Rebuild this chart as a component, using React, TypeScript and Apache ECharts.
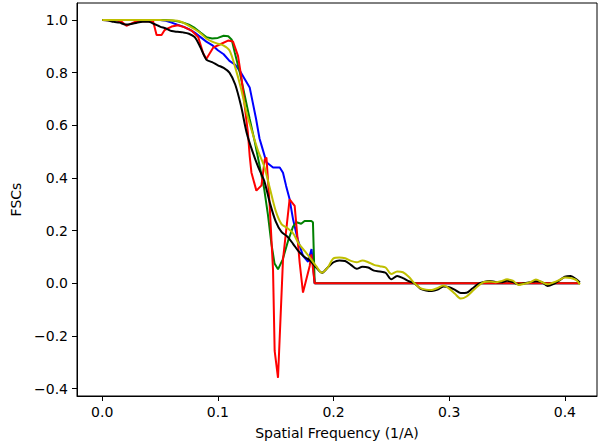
import React, { useEffect, useRef } from "react";
import * as echarts from "echarts";

// Shared frequency grid for the black and yellow curves (1/A)
const freq = [
  0, 0.005, 0.01, 0.015, 0.02, 0.025, 0.03, 0.035, 0.04, 0.045,
  0.05, 0.055, 0.06, 0.065, 0.07, 0.075, 0.08, 0.085, 0.09, 0.095,
  0.1, 0.105, 0.11, 0.115, 0.12, 0.125, 0.13, 0.135, 0.14, 0.145,
  0.15, 0.155, 0.16, 0.165, 0.17, 0.175, 0.18, 0.185, 0.19, 0.195,
  0.2, 0.205, 0.21, 0.215, 0.22, 0.225, 0.23, 0.235, 0.24, 0.245,
  0.25, 0.255, 0.26, 0.265, 0.27, 0.275, 0.28, 0.285, 0.29, 0.295,
  0.3, 0.305, 0.31, 0.315, 0.32, 0.325, 0.33, 0.335, 0.34, 0.345,
  0.35, 0.355, 0.36, 0.365, 0.37, 0.375, 0.38, 0.385, 0.39, 0.395,
  0.4, 0.405, 0.41, 0.413,
];

const blackFsc = [
  1.0, 0.998, 0.993, 0.99, 0.983, 0.985, 0.99, 0.993, 0.993, 0.985,
  0.975, 0.968, 0.958, 0.955, 0.953, 0.948, 0.935, 0.895, 0.85, 0.84,
  0.828, 0.818, 0.8, 0.755, 0.674, 0.57, 0.5, 0.44, 0.39, 0.305,
  0.235, 0.195, 0.178, 0.15, 0.12, 0.1, 0.085, 0.06, 0.04, 0.06,
  0.08, 0.087, 0.085, 0.07, 0.055, 0.063, 0.06, 0.048, 0.045, 0.04,
  0.015, 0.028, 0.02, 0.008, 0.0, -0.02, -0.027, -0.029, -0.024, -0.012,
  -0.015, -0.025, -0.037, -0.036, -0.02, -0.003, 0.005, 0.009, 0.005, 0.004,
  0.01, 0.005, -0.004, 0.0, 0.004, 0.008, 0.005, -0.01, -0.003, 0.01,
  0.025, 0.028, 0.015, 0.003,
];

const yellowFsc = [
  1.0, 1.0, 1.0, 1.0, 1.0, 1.0, 1.0, 1.0, 1.0, 1.0,
  1.0, 0.999, 0.999, 0.997, 0.99, 0.978, 0.965, 0.95, 0.93, 0.918,
  0.91, 0.903, 0.885, 0.82, 0.74, 0.645, 0.57, 0.5, 0.445, 0.36,
  0.275, 0.225, 0.21, 0.19, 0.15, 0.123, 0.095, 0.065, 0.04, 0.06,
  0.095, 0.098, 0.095, 0.085, 0.08, 0.087, 0.08, 0.07, 0.065, 0.06,
  0.035, 0.045, 0.042, 0.025, 0.0, -0.018, -0.024, -0.025, -0.018, -0.008,
  -0.02, -0.04, -0.058, -0.05, -0.03, -0.01, 0.005, 0.007, 0.004, 0.008,
  0.015, 0.01, -0.006, -0.002, 0.004, 0.014, 0.005, -0.004, 0.003, 0.012,
  0.022, 0.02, 0.012, -0.004,
];

const blueFreq = [
  0, 0.05, 0.055, 0.06, 0.065, 0.07, 0.075, 0.08, 0.085, 0.09,
  0.095, 0.1, 0.105, 0.11, 0.115, 0.12, 0.1247, 0.1275, 0.13, 0.133,
  0.136, 0.138, 0.142, 0.1477, 0.1535, 0.1563, 0.159, 0.162, 0.165, 0.169,
  0.1736, 0.178, 0.181, 0.1837, 0.413,
];
const blueFsc = [
  1.0, 1.0, 0.997, 0.99, 0.982, 0.975, 0.965, 0.952, 0.935, 0.918,
  0.905, 0.885, 0.87, 0.845, 0.83, 0.8, 0.765, 0.744, 0.69, 0.625,
  0.55, 0.52, 0.46, 0.44, 0.44, 0.42, 0.37, 0.32, 0.243, 0.167,
  0.104, 0.082, 0.13, 0.0, 0.0,
];

const greenFreq = [
  0, 0.055, 0.06, 0.065, 0.07, 0.075, 0.08, 0.085, 0.09, 0.095,
  0.1, 0.105, 0.109, 0.112, 0.1146, 0.119, 0.1233, 0.1275, 0.1318, 0.135,
  0.14, 0.1433, 0.1463, 0.149, 0.152, 0.156, 0.1606, 0.165, 0.168, 0.172,
  0.175, 0.1808, 0.1822, 0.1837, 0.413,
];
const greenFsc = [
  1.0, 1.0, 0.998, 0.995, 0.99, 0.982, 0.97, 0.952, 0.935, 0.93,
  0.932, 0.94, 0.938, 0.925, 0.877, 0.8, 0.712, 0.624, 0.54, 0.47,
  0.36, 0.26, 0.15, 0.075, 0.053, 0.09, 0.16, 0.215, 0.232, 0.226,
  0.237, 0.237, 0.232, 0.0, 0.0,
];

const redFreq = [
  0, 0.012, 0.0168, 0.021, 0.0254, 0.03, 0.044, 0.047, 0.0513, 0.054,
  0.06, 0.0656, 0.0714, 0.0772, 0.083, 0.0872, 0.09, 0.0959, 0.1016, 0.1088,
  0.1131, 0.1174, 0.1204, 0.1232, 0.126, 0.1275, 0.129, 0.1333, 0.1377, 0.1405,
  0.142, 0.1448, 0.1477, 0.1491, 0.152, 0.1563, 0.162, 0.1664, 0.1707, 0.1736,
  0.1794, 0.1808, 0.1837, 0.413,
];
const redFsc = [
  1.0, 0.999, 0.993, 0.978, 0.987, 0.996, 0.995, 0.943, 0.943, 0.962,
  0.975, 0.98, 0.972, 0.96, 0.935, 0.875, 0.852, 0.895, 0.907, 0.922,
  0.918, 0.864, 0.78, 0.674, 0.57, 0.484, 0.421, 0.352, 0.372, 0.47,
  0.478, 0.294, 0.05, -0.257, -0.359, 0.09, 0.319, 0.294, 0.079, -0.035,
  0.066, 0.11, 0.0, 0.0,
];

const xTicks = [0, 0.1, 0.2, 0.3, 0.4];
const yTicks = [-0.4, -0.2, 0, 0.2, 0.4, 0.6, 0.8, 1.0];

const FONT = "DejaVu Sans";

const fmt = (v: number) =>
  v < 0 ? "\u2212" + Math.abs(v).toFixed(1) : v.toFixed(1);

const pairs = (xs: number[], ys: number[]) => xs.map((x, i) => [x, ys[i]]);

export default function App() {
  const ref = useRef<HTMLDivElement>(null);
  useEffect(() => {
    if (!ref.current) return;
    const chart = echarts.init(ref.current, null, { renderer: "svg" });
    const mk = (name: string, color: string, data: number[][], smooth: number | boolean, z: number) => ({
      name,
      type: "line",
      data,
      showSymbol: false,
      symbol: "none",
      smooth,
      z,
      lineStyle: { color, width: 2 },
      itemStyle: { color },
    });
    chart.setOption({
      animation: false,
      backgroundColor: "#fff",
      grid: {
        left: 77,
        right: 1,
        top: 3,
        bottom: 50,
        show: true,
        borderColor: "#000",
        borderWidth: 1,
        backgroundColor: "transparent",
        containLabel: false,
        outerBoundsMode: "none",
      },
      xAxis: {
        type: "value",
        min: -0.0218,
        max: 0.4278,
        name: "Spatial Frequency (1/A)",
        nameLocation: "middle",
        nameGap: 30,
        nameTextStyle: { fontFamily: FONT, fontSize: 14, color: "#000" },
        axisLine: { show: true, onZero: false, lineStyle: { color: "#000", width: 1 } },
        axisTick: { show: true, customValues: xTicks, length: 5, lineStyle: { color: "#000", width: 1 } },
        axisLabel: {
          customValues: xTicks,
          formatter: (v: number) => fmt(v),
          fontFamily: FONT,
          fontSize: 14,
          color: "#000",
          margin: 9,
        },
        splitLine: { show: false },
      },
      yAxis: {
        type: "value",
        min: -0.428,
        max: 1.0646,
        name: "FSCs",
        nameLocation: "middle",
        nameGap: 53,
        nameRotate: 90,
        nameTextStyle: { fontFamily: FONT, fontSize: 14, color: "#000" },
        axisLine: { show: true, onZero: false, lineStyle: { color: "#000", width: 1 } },
        axisTick: { show: true, customValues: yTicks, length: 5, lineStyle: { color: "#000", width: 1 } },
        axisLabel: {
          customValues: yTicks,
          formatter: (v: number) => fmt(v),
          fontFamily: FONT,
          fontSize: 14,
          color: "#000",
          margin: 9,
        },
        splitLine: { show: false },
      },
      series: [
        mk("blue", "#0000ff", pairs(blueFreq, blueFsc), false, 2),
        mk("green", "#008000", pairs(greenFreq, greenFsc), false, 3),
        mk("red", "#ff0000", pairs(redFreq, redFsc), false, 4),
        mk("black", "#000000", pairs(freq, blackFsc), 0.3, 5),
        mk("yellow", "#bfbf00", pairs(freq, yellowFsc), 0.3, 6),
      ],
    });
    return () => chart.dispose();
  }, []);
  return (
    <div
      ref={ref}
      style={{ position: "fixed", left: 0, top: 0, width: 598, height: 446 }}
    />
  );
}
